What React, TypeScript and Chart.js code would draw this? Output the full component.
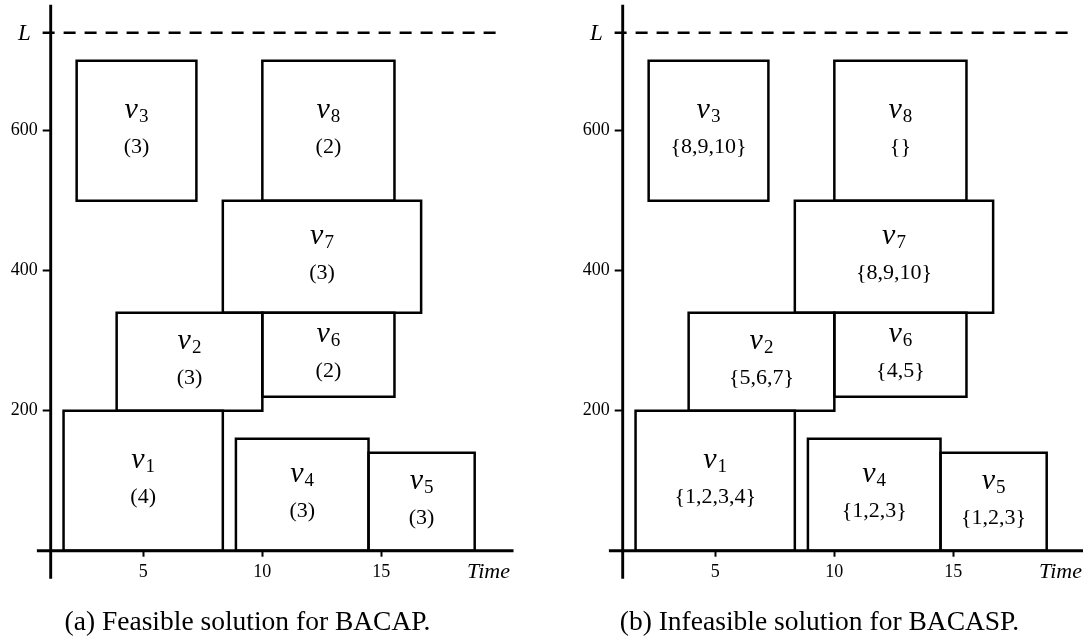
import React, { useEffect, useRef } from 'react';
import { Chart, registerables } from 'chart.js';

Chart.register(...registerables);

const SERIF = "'Liberation Serif', 'Times New Roman', serif";

// ---- data ----
const nodeIds = ['1', '2', '3', '4', '5', '6', '7', '8'];
const startTimes = [1.65, 3.88, 2.2, 8.89, 14.46, 10.0, 8.34, 10.0];
const endTimes = [8.34, 10.0, 7.23, 14.46, 18.92, 15.55, 16.67, 15.55];
const bottomLevels = [0, 200, 500, 0, 0, 220, 340, 500];
const topLevels = [200, 340, 700, 160, 140, 340, 500, 700];
const countsA = ['(4)', '(3)', '(3)', '(3)', '(3)', '(2)', '(3)', '(2)'];
const setsB = ['{1,2,3,4}', '{5,6,7}', '{8,9,10}', '{1,2,3}', '{1,2,3}', '{4,5}', '{8,9,10}', '{}'];
const capacityL = 740;
const xTicks = [5, 10, 15];
const yTicks = [200, 400, 600];
const captionA = '(a) Feasible solution for BACAP.';
const captionB = '(b) Infeasible solution for BACASP.';

// axis extents (data units)
const X_MIN = 1.11;
const X_MAX = 20.55;
const Y_MIN = 0;
const Y_MAX = 780;
const X_AXIS_START = 0.53;
const Y_AXIS_BOTTOM = -40;
const L_START = 0.77;
const L_END = 20.07;
const TIME_AT = 19.5;

const CW = 572;
const CH = 642;

function rectPoints(i: number) {
  const x0 = startTimes[i], x1 = endTimes[i], y0 = bottomLevels[i], y1 = topLevels[i];
  return [
    { x: x0, y: y0 }, { x: x1, y: y0 }, { x: x1, y: y1 },
    { x: x0, y: y1 }, { x: x0, y: y0 }, { x: x1, y: y0 },
  ];
}

function makeConfig(values: string[], caption: string): any {
  const lineBase = {
    type: 'line',
    borderColor: '#000',
    pointRadius: 0,
    fill: false,
    tension: 0,
    clip: false,
    borderJoinStyle: 'miter',
  };
  const datasets: any[] = nodeIds.map((id, i) => ({
    ...lineBase,
    label: 'v' + id,
    data: rectPoints(i),
    borderWidth: 2.5,
  }));
  datasets.push({
    ...lineBase,
    label: 'xaxis',
    data: [{ x: X_AXIS_START, y: 0 }, { x: X_MAX, y: 0 }],
    borderWidth: 2.9,
  });
  datasets.push({
    ...lineBase,
    label: 'yaxis',
    data: [{ x: X_MIN, y: Y_AXIS_BOTTOM }, { x: X_MIN, y: Y_MAX }],
    borderWidth: 2.9,
  });
  datasets.push({
    ...lineBase,
    label: 'L',
    data: [{ x: L_START, y: capacityL }, { x: L_END, y: capacityL }],
    borderWidth: 2.4,
    borderDash: [12, 9],
  });

  const labelPlugin = {
    id: 'boxLabels',
    afterDatasetsDraw(chart: any) {
      const { ctx } = chart;
      const xs = chart.scales.x;
      const ys = chart.scales.y;
      ctx.save();
      ctx.fillStyle = '#000';
      ctx.textBaseline = 'alphabetic';
      nodeIds.forEach((id, i) => {
        const cx = xs.getPixelForValue((startTimes[i] + endTimes[i]) / 2);
        const cy = ys.getPixelForValue((bottomLevels[i] + topLevels[i]) / 2);
        ctx.font = `italic 30px ${SERIF}`;
        const wv = ctx.measureText('v').width;
        ctx.font = `19px ${SERIF}`;
        const ws = ctx.measureText(id).width;
        const left = cx - (wv + ws + 1) / 2;
        ctx.textAlign = 'left';
        ctx.font = `italic 30px ${SERIF}`;
        ctx.fillText('v', left, cy - 12.5);
        ctx.font = `19px ${SERIF}`;
        ctx.fillText(id, left + wv + 1, cy - 8.5);
        ctx.textAlign = 'center';
        ctx.font = `22px ${SERIF}`;
        ctx.fillText(values[i], cx, cy + 22);
      });
      ctx.textAlign = 'center';
      ctx.font = `italic 23px ${SERIF}`;
      ctx.fillText('L', xs.getPixelForValue(0), ys.getPixelForValue(capacityL) + 7.5);
      ctx.font = `italic 22px ${SERIF}`;
      ctx.fillText('Time', xs.getPixelForValue(TIME_AT), ys.getPixelForValue(0) + 27.5);
      ctx.font = `27.5px ${SERIF}`;
      ctx.fillText(caption, 247.5, 630);
      ctx.restore();
    },
  };

  return {
    type: 'line',
    data: { datasets },
    plugins: [labelPlugin],
    options: {
      animation: false,
      responsive: false,
      maintainAspectRatio: false,
      events: [],
      layout: { padding: { left: 0, top: 4.7, right: CW - 513.5, bottom: 0 } },
      plugins: {
        legend: { display: false },
        tooltip: { enabled: false },
        title: { display: false },
      },
      scales: {
        x: {
          type: 'linear',
          min: X_MIN,
          max: X_MAX,
          afterBuildTicks: (s: any) => { s.ticks = xTicks.map((v) => ({ value: v })); },
          afterFit: (s: any) => { s.height = CH - 550.7; s.paddingLeft = 0; s.paddingRight = 0; },
          border: { display: false },
          grid: { display: true, drawOnChartArea: false, drawTicks: true, tickLength: 6, tickWidth: 2, tickColor: '#000' },
          ticks: { color: '#000', font: { family: SERIF, size: 18 }, padding: 5, maxRotation: 0, autoSkip: false },
        },
        y: {
          type: 'linear',
          min: Y_MIN,
          max: Y_MAX,
          afterBuildTicks: (s: any) => { s.ticks = yTicks.map((v) => ({ value: v })); },
          afterFit: (s: any) => { s.width = 50.7; s.paddingTop = 0; s.paddingBottom = 0; },
          border: { display: false },
          grid: { display: true, drawOnChartArea: false, drawTicks: true, tickLength: 8, tickWidth: 2, tickColor: '#000' },
          ticks: { color: '#000', font: { family: SERIF, size: 18 }, padding: 5, autoSkip: false },
        },
      },
    },
  };
}

function Panel({ values, caption, left }: { values: string[]; caption: string; left: number }) {
  const ref = useRef<HTMLCanvasElement | null>(null);
  useEffect(() => {
    if (!ref.current) return;
    const chart = new Chart(ref.current, makeConfig(values, caption));
    return () => chart.destroy();
  }, [values, caption]);
  return (
    <canvas
      ref={ref}
      width={CW}
      height={CH}
      style={{ position: 'absolute', left, top: 0, width: CW, height: CH }}
    />
  );
}

export default function App() {
  return (
    <div
      style={{
        position: 'fixed', left: 0, top: 0, width: 1083, height: 642,
        overflow: 'hidden', background: '#fff',
      }}
    >
      <Panel values={countsA} caption={captionA} left={0} />
      <Panel values={setsB} caption={captionB} left={572} />
    </div>
  );
}
